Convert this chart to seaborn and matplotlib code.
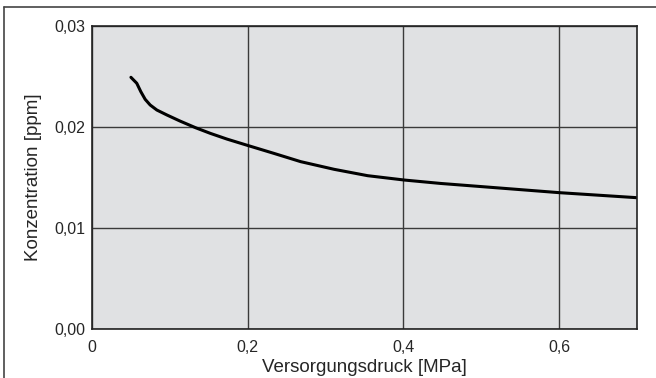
import pandas as pd
import matplotlib.pyplot as plt
import seaborn as sns
from matplotlib.lines import Line2D

# Werte
druck_mpa = [0.050, 0.0575, 0.0627, 0.0683, 0.0747, 0.0833, 0.0962, 0.113, 0.133, 0.152,
             0.1735, 0.201, 0.234, 0.268, 0.311, 0.354, 0.401, 0.448, 0.500, 0.550,
             0.600, 0.650, 0.700]
konzentration_ppm = [0.02492, 0.02433, 0.02350, 0.02274, 0.02218, 0.02168, 0.02119, 0.02059, 0.01993, 0.01937,
                     0.01880, 0.01815, 0.01738, 0.01657, 0.01581, 0.01518, 0.01475, 0.01441, 0.01410, 0.01380,
                     0.01350, 0.01325, 0.01300]

x_ticks = [0, 0.2, 0.4, 0.6]
x_labels = ['0', '0,2', '0,4', '0,6']
y_ticks = [0.00, 0.01, 0.02, 0.03]
y_labels = ['0,00', '0,01', '0,02', '0,03']

df = pd.DataFrame({'druck': druck_mpa, 'konz': konzentration_ppm})

sns.set_theme(style="white")
plt.rcParams['font.family'] = ['Liberation Sans', 'DejaVu Sans']

fig = plt.figure(figsize=(6.56, 3.78), dpi=100)
ax = fig.add_axes([92 / 656, 1 - 329 / 378, 545 / 656, 303 / 378])
ax.set_facecolor('#e0e1e3')

sns.lineplot(data=df, x='druck', y='konz', ax=ax, color='black', linewidth=2.2)

ax.set_xlim(0, 0.7)
ax.set_ylim(0, 0.03)
ax.set_xticks(x_ticks)
ax.set_xticklabels(x_labels, fontsize=11.5)
ax.set_yticks(y_ticks)
ax.set_yticklabels(y_labels, fontsize=11.5)
ax.tick_params(axis='y', length=0, pad=5)
ax.tick_params(axis='x', length=0, pad=8)
ax.grid(True, color='#3a3a3a', linewidth=1.0)
ax.set_axisbelow(True)
for sp in ax.spines.values():
    sp.set_color('#222222')
    sp.set_linewidth(1.2)

ax.set_xlabel('Versorgungsdruck [MPa]', fontsize=13.5, labelpad=3)
ax.set_ylabel('Konzentration [ppm]', fontsize=13.5, labelpad=9)

# Rahmen um das Bild
fig.add_artist(Line2D([4 / 656, 1], [1 - 7 / 378, 1 - 7 / 378], color='#444444', linewidth=1.2))
fig.add_artist(Line2D([4 / 656, 4 / 656], [0, 1 - 7 / 378], color='#444444', linewidth=1.2))

fig.savefig('out.png', dpi=100)
